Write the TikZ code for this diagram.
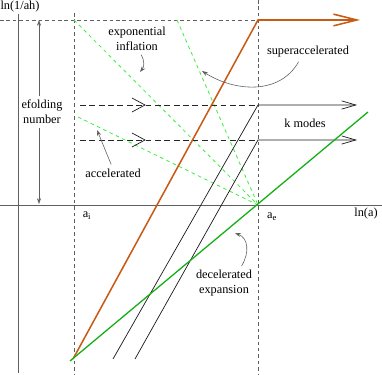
\documentclass[tikz,border=0pt]{standalone}
\usepackage{fontspec}
\setmainfont{Liberation Serif}
\usetikzlibrary{arrows.meta}
\definecolor{inflorange}{RGB}{200,90,20}
\definecolor{decgreen}{RGB}{20,175,20}
\definecolor{accgreen}{RGB}{60,240,60}
\definecolor{axisgray}{RGB}{95,95,95}
\tikzset{
  axisline/.style={axisgray, line width=0.6pt},
  guide/.style={axisgray, line width=0.4pt, dash pattern=on 3pt off 2.5pt},
  kline/.style={black!90, line width=0.6pt},
  kdash/.style={black!85, line width=0.6pt, dash pattern=on 5pt off 3pt},
  gdash/.style={accgreen, line width=0.7pt, dash pattern=on 3pt off 3pt},
  note/.style={axisgray, line width=0.5pt, -{Stealth[length=5pt,width=3.5pt]}}
}
\begin{document}
\begin{tikzpicture}[x=0.03cm, y=-0.03cm, font=\fontsize{10.5}{12.5}\selectfont]
    % --- 定义坐标和参数 ---
    \def\xai{74}      % a_i 的位置
    \def\xae{258}     % a_e 的位置
    \def\ytop{20}     % 顶部虚线
    \def\yaxis{205}   % x 轴
    \useasboundingbox (0,0) rectangle (382,375);

    % --- 绘制坐标轴 ---
    \draw[axisline] (18,373) -- (18,14);
    \draw[axisline] (0,\yaxis) -- (382,\yaxis);
    \node (lnah) at (20,7) {ln(1/ah)};
    \node (lna) at (366,214) {ln(a)};

    % --- 辅助虚线和标签 ---
    \draw[guide] (0,\ytop) -- (\xae,\ytop);
    \draw[guide] (\xai,13) -- (\xai,375);
    \draw[guide] (\xae,0) -- (\xae,375);
    \node (ai) at (87,216) {a\textsubscript{i}};
    \node (ae) at (272,217) {a\textsubscript{e}};

    % --- 坐标点 ---
    \coordinate (start) at (73,359);
    \coordinate (top) at (\xae,\ytop);
    \coordinate (end) at (\xae,\yaxis);
    \coordinate (topend) at (360,\ytop);
    \coordinate (gstart) at (70,361);
    \coordinate (gend) at (368,112);

    % --- 绿色虚线 (加速膨胀) ---
    \foreach \p in {(74,20),(78,117),(177,20)}
        \draw[gdash] \p -- (end);

    % --- k 模式 ---
    \foreach \y/\xs in {105/113,140/135} {
        \draw[kdash] (80,\y) -- (\xae,\y);
        \draw[kline] (132,\y-7) -- (145,\y) -- (132,\y+7);
        \draw[kline, -{Straight Barb[length=12pt,width=7pt]}] (\xs,359) -- (\xae,\y) -- (357,\y);
    }

    % --- 橙色曲线 (超加速) ---
    \draw[inflorange, line width=1.3pt, -{Straight Barb[length=20pt,width=10pt]}] (start) -- (top) -- (topend);

    % --- 绿色实线 (减速膨胀) ---
    \draw[decgreen, line width=1.1pt] (gstart) -- (gend);

    % --- 标注 ---
    \node[align=center] (expinf) at (137,39) {exponential\\inflation};
    \coordinate (expt) at (140,72);
    \draw[note] (expinf.-75) .. controls (145,62) and (144,67) .. (expt);

    \node (accel) at (113,173) {accelerated};
    \coordinate (acct) at (97,130);
    \draw[note] (accel.102) -- (acct);

    \node[align=center] (efold) at (42,112) {efolding\\number};
    \coordinate (ef1) at (39,20);
    \coordinate (ef2) at (39,204);
    \draw[note] (efold.north -| ef1) -- (ef1);
    \draw[note] (efold.south -| ef2) -- (ef2);

    \node (super) at (308,52) {superaccelerated};
    \coordinate (supt) at (202,71);
    \draw[note] ([xshift=-8pt]super.south) .. controls (280,95) and (235,92) .. (supt);

    \node (kmodes) at (305,123) {k modes};

    \node[align=center] (decel) at (224,283) {decelerated\\expansion};
    \coordinate (dect) at (235,233);
    \draw[note] ([xshift=15pt]decel.north) .. controls (250,252) and (248,238) .. (dect);

\end{tikzpicture}
\end{document}
